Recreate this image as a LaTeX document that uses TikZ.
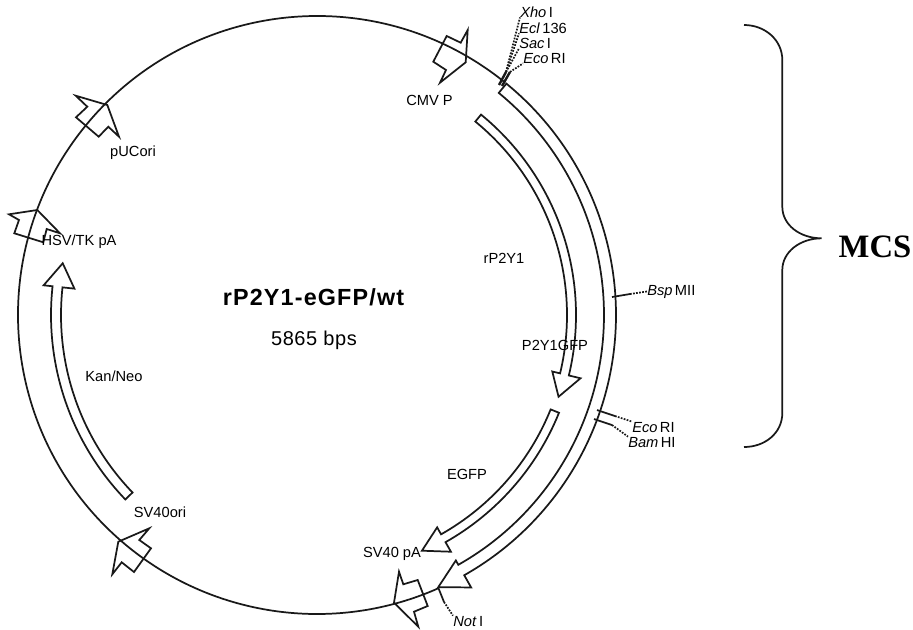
\documentclass[tikz,border=0pt]{standalone}
\usepackage{xcolor}
\usepackage{fontspec}
\setmainfont{Liberation Sans}
\newfontfamily\mcsfont{Liberation Serif}
\usepackage{tikz}
\begin{document}
\begin{tikzpicture}[
    x=0.75pt, y=-0.75pt,
    plasmid/.style={draw=black!90, line width=1.3pt},
    feat/.style={draw=black!90, line width=1.3pt, line join=miter},
    lab/.style={anchor=base, font=\fontsize{11}{13}\selectfont, inner sep=0pt},
    site/.style={anchor=base west, font=\fontsize{11}{13}\selectfont, inner sep=0pt},
    stub/.style={draw=black!90, line width=1.3pt},
    lead/.style={draw=black!90, line width=1.3pt, densely dotted}
]
\useasboundingbox (0,0) rectangle (913,629);

% ring and feature arrows, in polar coordinates round the centre
\begin{scope}[shift={(317,315)}, y=0.75pt]
\draw[plasmid] (51:299) arc[start angle=51, end angle=294, radius=299];
\draw[feat] (50.7:299) arc[start angle=50.7, end angle=-60.5, radius=299] -- (-60.5:313) -- (-66:298)
    -- (-60.5:282) -- (-60.5:287) arc[start angle=-60.5, end angle=50.7, radius=287] -- cycle;
\draw[feat] (50.7:259) arc[start angle=50.7, end angle=-13.5, radius=259] -- (-13.5:271) -- (-18.7:255)
    -- (-13.5:242) -- (-13.5:250) arc[start angle=-13.5, end angle=50.7, radius=250] -- cycle;
\draw[feat] (-22:261) arc[start angle=-22, end angle=-60.5, radius=261] -- (-60.5:272) -- (-66:258)
    -- (-60.5:244) -- (-60.5:252) arc[start angle=-60.5, end angle=-22, radius=252] -- cycle;
\draw[feat] (223.9:266) arc[start angle=223.9, end angle=173.8, radius=266] -- (173.8:275) -- (168.5:259.5)
    -- (173.8:244) -- (173.8:256) arc[start angle=173.8, end angle=223.9, radius=256] -- cycle;
\end{scope}

% block arrows sitting on the ring
\draw[feat] (465.7,62.3) -- (467.7,30) -- (460.7,42.7) -- (446.7,36) -- (433.3,61.7) -- (446,70) -- (440,82.7) -- cycle;
\draw[feat] (107.3,105) -- (75.7,95.7) -- (87.3,106.7) -- (76,117.3) -- (98.7,136.7) -- (108.3,126.7) -- (119,136.7) -- cycle;
\draw[feat] (37.3,210) -- (9,214.3) -- (19,220) -- (14.3,233.3) -- (43.3,242.3) -- (46.7,229) -- (60,233.3) -- cycle;
\draw[feat] (118.3,541.7) -- (149.3,528.3) -- (139.3,540) -- (151,548.3) -- (134,572) -- (121.7,562.3) -- (112.3,574.3) -- cycle;
\draw[feat] (394,602.7) -- (399,571.7) -- (403.3,584.3) -- (417.7,580) -- (427.7,606) -- (414,611.7) -- (418.3,626.7) -- cycle;

% feature labels
\node[lab] (cmv) at (429.5,105) {CMV P};
\node[lab] (puc) at (133,156) {pUCori};
\node[lab] (hsv) at (79,245) {HSV/TK pA};
\node[lab] (kan) at (114,381) {Kan/Neo};
\node[lab] (svori) at (160,517) {SV40ori};
\node[lab] (svpa) at (392,557) {SV40 pA};
\node[lab] (egfp) at (467,479) {EGFP};
\node[lab] (p2y1) at (504,263) {rP2Y1};
\node[lab] (fus) at (555,350) {P2Y1GFP};
\node[lab, font=\bfseries\fontsize{17.5}{20}\selectfont\addfontfeature{LetterSpace=5}] (name) at (313.5,305) {rP2Y1-eGFP/wt};
\node[lab, font=\fontsize{15}{18}\selectfont\addfontfeature{LetterSpace=3}] (size) at (314,345) {5865 bps};

% restriction sites
\node[site] (xho) at (520,17) {\textit{Xho}\,I};
\node[site] (ecl) at (519,33) {\textit{Ecl}\,136};
\node[site] (sac) at (519,48) {\textit{Sac}\,I};
\node[site] (ecot) at (523,63) {\textit{Eco}\,RI};
\node[site] (bsp) at (647,295) {\textit{Bsp}\,MII};
\node[site] (ecob) at (632,432) {\textit{Eco}\,RI};
\node[site] (bam) at (628,447) {\textit{Bam}\,HI};
\node[site] (nots) at (453,626) {\textit{Not}\,I};

\coordinate (a0) at (499,85);
\coordinate (a1) at (506,72);
\coordinate (b0) at (502,86);
\coordinate (b1) at (510,72);
\coordinate (c0) at (612,297);
\coordinate (c1) at (630,294);
\coordinate (d0) at (597,410);
\coordinate (d1) at (615,416);
\coordinate (e0) at (594,419);
\coordinate (e1) at (612,425);
\coordinate (f0) at (438,587);
\coordinate (f1) at (444,602);

\draw[stub, line width=1.8pt] (a0) -- (a1);
\draw[stub, line width=1.8pt] (b0) -- (b1);
\draw[stub] (c0) -- (c1);
\draw[stub] (d0) -- (d1);
\draw[stub] (e0) -- (e1);
\draw[stub] (f0) -- (f1);
\draw[lead] (a1) -- (xho.south west);
\draw[lead] (a1) -- (ecl.south west);
\draw[lead] (a1) -- (sac.south west);
\draw[lead] (b1) -- (ecot.south west);
\draw[lead] (c1) -- (bsp.west);
\draw[lead] (d1) -- (ecob.north west);
\draw[lead] (e1) -- (bam.north west);
\draw[lead] (f1) -- (nots.north west);

% brace for the cloning sites
\coordinate (brtop) at (744,25);
\coordinate (brtip) at (821.7,238.3);
\coordinate (brbot) at (744,447);
\node[inner sep=0pt, anchor=base, font=\mcsfont\bfseries\fontsize{24.5}{28}\selectfont] (mcs) at (875,257) {MCS};
\draw[plasmid] (brtop) .. controls (765,25) and (782.3,40) .. (782.3,60) -- (782.3,206.7)
    .. controls (782.3,225) and (800,238.3) .. (brtip)
    .. controls (800,238.3) and (782.3,252) .. (782.3,270) -- (782.3,413)
    .. controls (782.3,433) and (765,447) .. (brbot);
\end{tikzpicture}
\end{document}
